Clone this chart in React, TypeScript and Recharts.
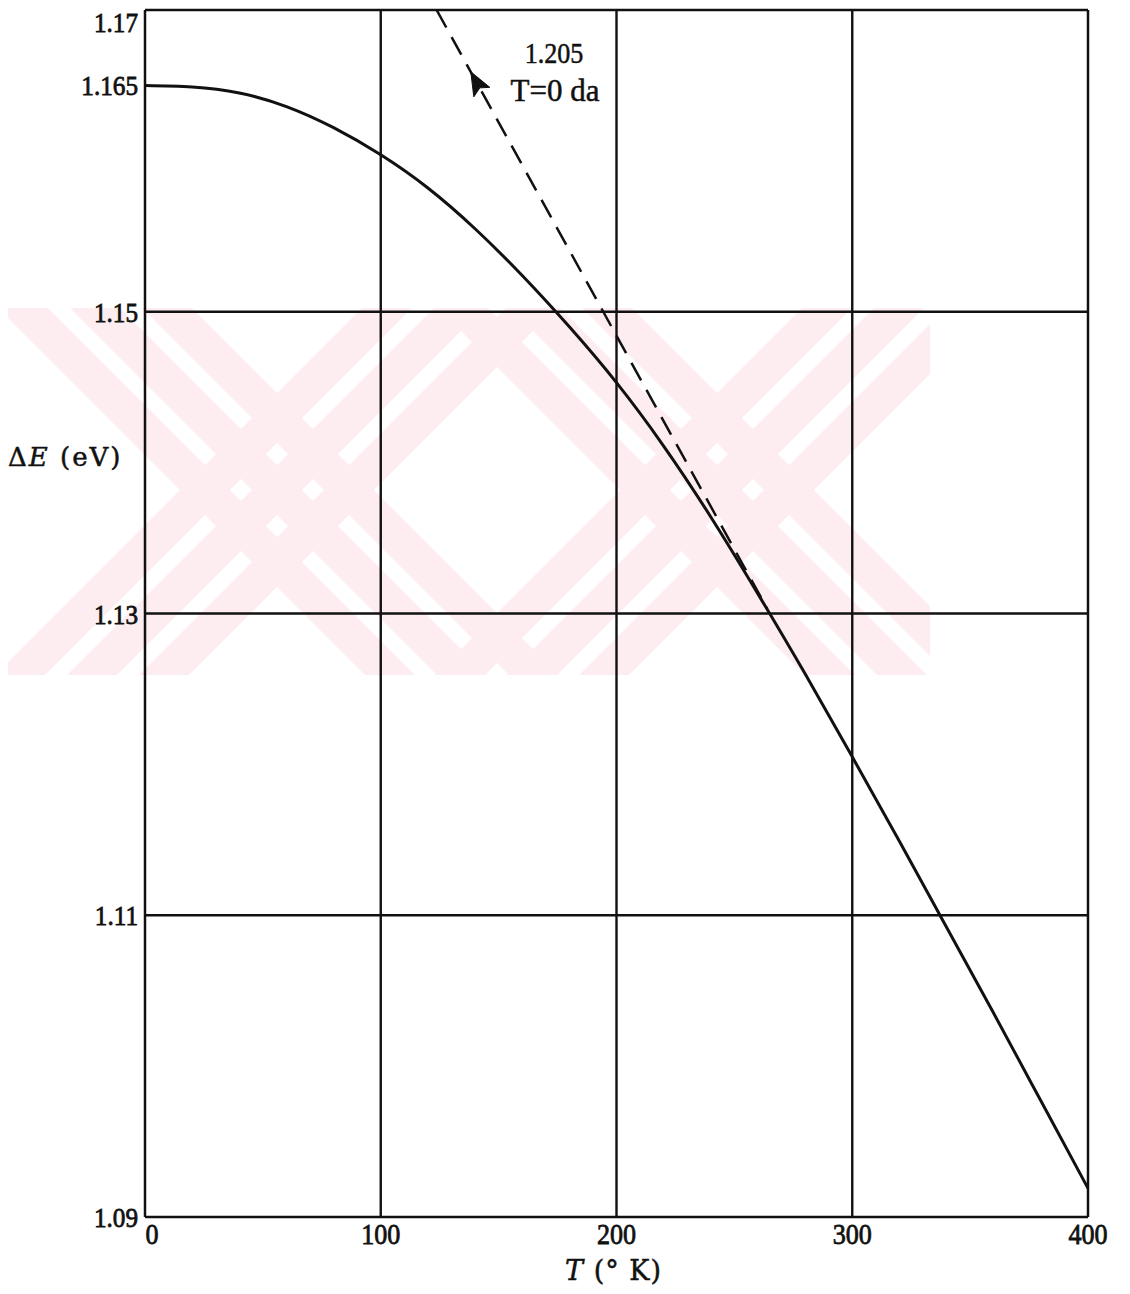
import React from "react";
import {
  LineChart,
  Line,
  XAxis,
  YAxis,
  ReferenceLine,
  ReferenceDot,
} from "recharts";

// Band gap of silicon versus temperature
const temperatureK = [0, 20, 40, 60, 80, 100, 120, 140, 160, 180, 200, 220, 240, 260, 280, 300, 320, 340, 360, 380, 400];
const gapEnergyEv = [
  1.165, 1.1649, 1.1645, 1.1636, 1.1622, 1.1604, 1.1582, 1.1555, 1.1524, 1.149, 1.1453, 1.1411, 1.1364, 1.1313,
  1.126, 1.1205, 1.1149, 1.1092, 1.1035, 1.0977, 1.0919,
];

// Linear high-temperature extrapolation back toward T = 0
const tangentT = [123.7, 264];
const tangentEv = [1.17, 1.1303];
const extrapolatedGap = "1.205";
const extrapolatedNote = "T=0 da";

const xTicks = [0, 100, 200, 300, 400];
const yTicks = [1.09, 1.11, 1.13, 1.15, 1.165, 1.17];
const gridT = [100, 200, 300];
const gridEv = [1.11, 1.13, 1.15];

const curveData = temperatureK.map((t, i) => ({ T: t, E: gapEnergyEv[i] }));
const tangentData = tangentT.map((t, i) => ({ T: t, E: tangentEv[i] }));

const SERIF = "'Liberation Serif', 'Times New Roman', serif";
const TITLE_SERIF = "'DejaVu Serif', 'Liberation Serif', serif";
const INK = "#111";

const YTick = (props: any) => {
  const { x, y, payload } = props;
  const v = payload.value;
  const dy = v === 1.17 ? 15 : 10;
  return (
    <text
      transform={`translate(${x},${y + dy}) scale(0.9,1)`}
      textAnchor="end"
      fontFamily={SERIF}
      fontSize={28}
      fill={INK}
      stroke={INK}
      strokeWidth={0.8}
    >
      {String(v)}
    </text>
  );
};

const XTick = (props: any) => {
  const { x, y, payload } = props;
  const dx = payload.value === 0 ? 7 : 0;
  return (
    <text
      transform={`translate(${x + dx},${y + 27}) scale(0.9,1)`}
      textAnchor="middle"
      fontFamily={SERIF}
      fontSize={29}
      fill={INK}
      stroke={INK}
      strokeWidth={0.8}
    >
      {String(payload.value)}
    </text>
  );
};

// Filled arrowhead pointing back along the dashed extrapolation
const ArrowHead = (props: any) => {
  const { cx, cy } = props;
  if (cx == null || cy == null) return null;
  const pts = [
    [0, 0],
    [19, 15.5],
    [9, 16],
    [3, 25],
  ]
    .map(([dx, dy]) => `${cx + dx},${cy + dy}`)
    .join(" ");
  return <polygon points={pts} fill={INK} stroke={INK} strokeWidth={1} strokeLinejoin="miter" />;
};

const NoteText = (props: any) => {
  const { cx, cy } = props;
  if (cx == null || cy == null) return null;
  return (
    <g fontFamily={SERIF} fill={INK} stroke={INK} strokeWidth={0.5}>
      <text transform={`translate(${cx},${cy}) scale(0.9,1)`} textAnchor="middle" fontSize={29}>
        {extrapolatedGap}
      </text>
      <text x={cx + 1} y={cy + 38} textAnchor="middle" fontSize={31}>
        {extrapolatedNote}
      </text>
    </g>
  );
};

const YTitle = (props: any) => {
  const vb = props.viewBox || {};
  return (
    <text
      x={0}
      y={(vb.y || 0) + 456}
      fontFamily={TITLE_SERIF}
      fontSize={26}
      fill={INK}
      stroke={INK}
      strokeWidth={0.5}
      letterSpacing={2}
    >
      <tspan>Δ</tspan>
      <tspan fontStyle="italic">E</tspan>
      <tspan> (eV)</tspan>
    </text>
  );
};

const XTitle = (props: any) => {
  const vb = props.viewBox || {};
  const cx = (vb.x || 0) + (vb.width || 0) / 2 - 3;
  return (
    <text
      x={cx}
      y={(vb.y || 0) + 63}
      textAnchor="middle"
      fontFamily={TITLE_SERIF}
      fontSize={27}
      fill={INK}
      stroke={INK}
      strokeWidth={0.5}
      letterSpacing={1}
    >
      <tspan fontStyle="italic">T</tspan>
      <tspan> (° K)</tspan>
    </text>
  );
};

// Faint diagonal-stripe watermark sitting behind the plot
const PINK = "#fdedf0";
const bandDown = (c1: number, c2: number, top: number, bottom: number) =>
  `${c1 + top},${top} ${c2 + top},${top} ${c2 + bottom},${bottom} ${c1 + bottom},${bottom}`;
const bandUp = (c1: number, c2: number, top: number, bottom: number) =>
  `${c1 - top},${top} ${c2 - top},${top} ${c2 - bottom},${bottom} ${c1 - bottom},${bottom}`;

const Watermark = () => {
  const top = 308;
  const bottom = 675;
  const stripes = [
    [-100, -50],
    [-28, 22],
    [44, 94],
  ];
  const centers = [
    [280, 490],
    [720, 490],
  ];
  const polys: string[] = [];
  centers.forEach(([cx, cy]) => {
    const kDown = cx - cy;
    const kUp = cx + cy;
    stripes.forEach(([a, b]) => {
      polys.push(bandDown(kDown + a, kDown + b, top, bottom));
      polys.push(bandUp(kUp + a, kUp + b, top, bottom));
    });
  });
  return (
    <svg width={1114} height={1278} style={{ position: "absolute", left: 0, top: 0 }}>
      <defs>
        <clipPath id="wm-clip">
          <rect x={0} y={top} width={930} height={bottom - top} />
        </clipPath>
      </defs>
      <g transform="translate(-8,-8)" clipPath="url(#wm-clip)">
        {polys.map((p, i) => (
          <polygon key={i} points={p} fill={PINK} />
        ))}
      </g>
    </svg>
  );
};

export default function App() {
  return (
    <div style={{ position: "relative", width: 1114, height: 1278, background: "#fff" }}>
      <Watermark />
      <div style={{ position: "absolute", left: 0, top: 0 }}>
        <LineChart width={1114} height={1278} margin={{ top: 2, right: 34, bottom: 3, left: 0 }}>
          <XAxis
            type="number"
            dataKey="T"
            domain={[0, 400]}
            ticks={xTicks}
            allowDataOverflow
            height={66}
            tickSize={0}
            tickMargin={0}
            tickLine={false}
            axisLine={{ stroke: INK, strokeWidth: 2.5 }}
            tick={<XTick />}
            label={<XTitle />}
          />
          <YAxis
            type="number"
            domain={[1.09, 1.17]}
            ticks={yTicks}
            allowDataOverflow
            width={137}
            tickSize={0}
            tickMargin={7}
            tickLine={false}
            axisLine={{ stroke: INK, strokeWidth: 2.5 }}
            tick={<YTick />}
            label={<YTitle />}
          />
          {gridT.map((t) => (
            <ReferenceLine key={`gx${t}`} x={t} stroke={INK} strokeWidth={2.4} />
          ))}
          {gridEv.map((e) => (
            <ReferenceLine key={`gy${e}`} y={e} stroke={INK} strokeWidth={2.4} />
          ))}
          <ReferenceLine y={1.17} stroke={INK} strokeWidth={2.5} />
          <ReferenceLine x={400} stroke={INK} strokeWidth={2.5} />
          <Line
            data={tangentData}
            dataKey="E"
            type="linear"
            stroke={INK}
            strokeWidth={2.5}
            strokeDasharray="20 11"
            dot={false}
            isAnimationActive={false}
          />
          <Line
            data={curveData}
            dataKey="E"
            type="natural"
            stroke={INK}
            strokeWidth={3}
            dot={false}
            isAnimationActive={false}
          />
          <ReferenceDot x={138.2} y={1.1659} r={0} shape={<ArrowHead />} />
          <ReferenceDot x={173.5} y={1.1665} r={0} shape={<NoteText />} />
        </LineChart>
      </div>
    </div>
  );
}
